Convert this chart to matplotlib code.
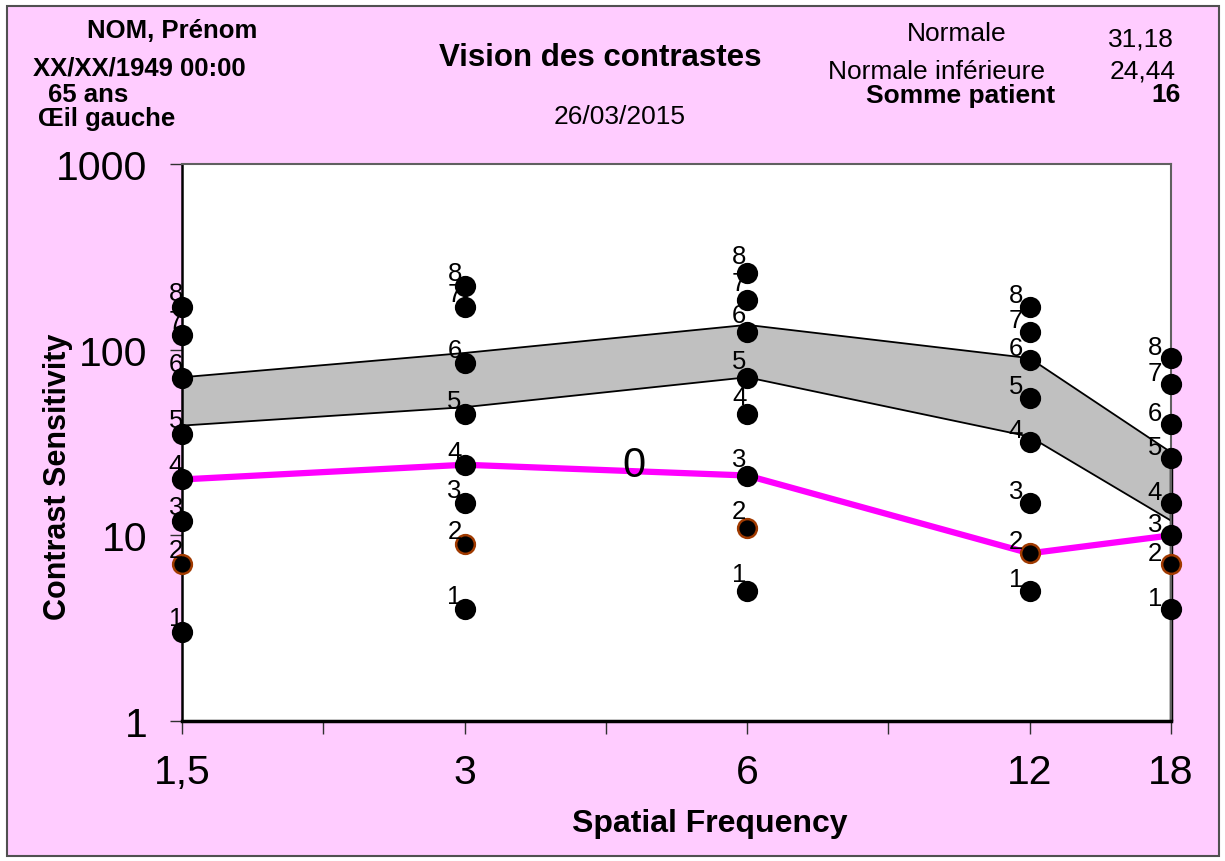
import matplotlib
matplotlib.use('Agg')
import matplotlib.pyplot as plt
from matplotlib.patches import Rectangle
from matplotlib.ticker import NullLocator

plt.rcParams['font.family'] = ['Liberation Sans', 'DejaVu Sans']

# ---- data ----
freq_labels = ['1,5', '3', '6', '12', '18']
freq_pos = [0, 1, 2, 3, 3.5]
level_names = ['1', '2', '3', '4', '5', '6', '7', '8']
levels_f15 = [3, 7, 12, 20, 35, 70, 120, 170]
levels_f3 = [4, 9, 15, 24, 45, 85, 170, 220]
levels_f6 = [5, 11, 21, 45, 70, 125, 185, 260]
levels_f12 = [5, 8, 15, 32, 55, 88, 125, 170]
levels_f18 = [4, 7, 10, 15, 26, 40, 65, 90]
normal_upper = [71, 96, 136, 90, 28]
normal_lower = [39, 49, 71, 34, 12]
patient = [20, 24, 21, 8, 10]
patient_label = '0'
patient_label_pos = (1.6, 24)

header_left = ['NOM, Prénom', 'XX/XX/1949 00:00', '65 ans', 'Œil gauche']
title = 'Vision des contrastes'
date = '26/03/2015'
norm_names = ['Normale', 'Normale inférieure', 'Somme patient']
norm_values = ['31,18', '24,44', '16']

levels = [levels_f15, levels_f3, levels_f6, levels_f12, levels_f18]

W, H = 1225, 862
fig = plt.figure(figsize=(W / 100, H / 100), dpi=100, facecolor='white')
bg = Rectangle((7 / W, 5 / H), 1212 / W, 850 / H, transform=fig.transFigure,
               facecolor='#FFCCFF', edgecolor='#505050', lw=1.5, zorder=-10)
fig.patches.append(bg)

ax = fig.add_axes([182 / W, (H - 722) / H, (1171 - 182) / W, (722 - 165) / H])
ax.set_zorder(1)
ax.set_facecolor('white')
ax.set_yscale('log')
ax.set_ylim(1, 1000)
ax.set_xlim(0, 3.5)

# normal band
ax.fill_between(freq_pos, normal_lower, normal_upper, facecolor='#C0C0C0', edgecolor='none', zorder=1)
ax.plot(freq_pos, normal_upper, color='black', lw=1.3, zorder=2)
ax.plot(freq_pos, normal_lower, color='black', lw=1.3, zorder=2)
ax.vlines(freq_pos[-1], 1, normal_upper[-1], color='black', lw=2.5, zorder=2, clip_on=False)

# patient line
ax.plot(freq_pos, patient, color='#FF00FF', lw=4.5, zorder=3, solid_capstyle='butt')
ax.text(patient_label_pos[0], patient_label_pos[1], patient_label, fontsize=30,
        ha='center', va='center', zorder=6)

# dots and labels
label_offsets = [(-6, -14), (-10, -13), (-8, -17), (-14, -12), (-16, -11)]
for xi, vals, off in zip(freq_pos, levels, label_offsets):
    for i, (name, v) in enumerate(zip(level_names, vals)):
        edge = '#A03A00' if name == '2' else 'black'
        ax.plot([xi], [v], 'o', ms=13.5, mfc='black', mec=edge, mew=1.8, zorder=5, clip_on=False)
        ax.annotate(name, (xi, v), xytext=(off[0] * 0.72, -off[1] * 0.72), textcoords='offset points',
                    ha='center', va='center', fontsize=18.5, zorder=7, annotation_clip=False)

# axes styling
ax.set_yticks([1, 10, 100, 1000])
ax.set_yticklabels(['1', '10', '100', '1000'])
ax.yaxis.set_minor_locator(NullLocator())
all_x = [0, 0.5, 1, 1.5, 2, 2.5, 3, 3.5]
ax.set_xticks(all_x)
ax.set_xticklabels([freq_labels[freq_pos.index(p)] if p in freq_pos else '' for p in all_x])
ax.tick_params(axis='both', direction='out', length=9, width=1, labelsize=29.5, color='#303030')
ax.tick_params(axis='x', pad=14)
ax.tick_params(axis='y', pad=16)

ax.spines['left'].set_color('black')
ax.spines['left'].set_linewidth(1.8)
ax.spines['bottom'].set_color('black')
ax.spines['bottom'].set_linewidth(2.5)
ax.spines['top'].set_color('#606060')
ax.spines['top'].set_linewidth(1.5)
ax.spines['right'].set_color('#606060')
ax.spines['right'].set_linewidth(1.5)

fig.text(710 / W, 1 - 824 / H, 'Spatial Frequency', fontsize=23, fontweight='bold', ha='center', va='center')
fig.text(58 / W, 1 - 477 / H, 'Contrast Sensitivity', fontsize=22, fontweight='bold',
         ha='center', va='center', rotation=90)

# header
fig.text(172 / W, 1 - 31 / H, header_left[0], fontsize=18.5, fontweight='bold', ha='center', va='center')
fig.text(33 / W, 1 - 69 / H, header_left[1], fontsize=18.5, fontweight='bold', ha='left', va='center')
fig.text(48 / W, 1 - 95 / H, header_left[2], fontsize=18.5, fontweight='bold', ha='left', va='center')
fig.text(38 / W, 1 - 119 / H, header_left[3], fontsize=18.5, fontweight='bold', ha='left', va='center')
fig.text(600 / W, 1 - 58 / H, title, fontsize=22.5, fontweight='bold', ha='center', va='center')
fig.text(620 / W, 1 - 117 / H, date, fontsize=19, ha='center', va='center')

fig.text(957 / W, 1 - 34 / H, norm_names[0], fontsize=19, ha='center', va='center')
fig.text(937 / W, 1 - 72 / H, norm_names[1], fontsize=19, ha='center', va='center')
fig.text(961 / W, 1 - 96 / H, norm_names[2], fontsize=19, fontweight='bold', ha='center', va='center')
fig.text(1141 / W, 1 - 40 / H, norm_values[0], fontsize=19, ha='center', va='center')
fig.text(1143 / W, 1 - 72 / H, norm_values[1], fontsize=19, ha='center', va='center')
fig.text(1181 / W, 1 - 95 / H, norm_values[2], fontsize=19, fontweight='bold', ha='right', va='center')

fig.savefig('out.png', dpi=100, facecolor=fig.get_facecolor())
